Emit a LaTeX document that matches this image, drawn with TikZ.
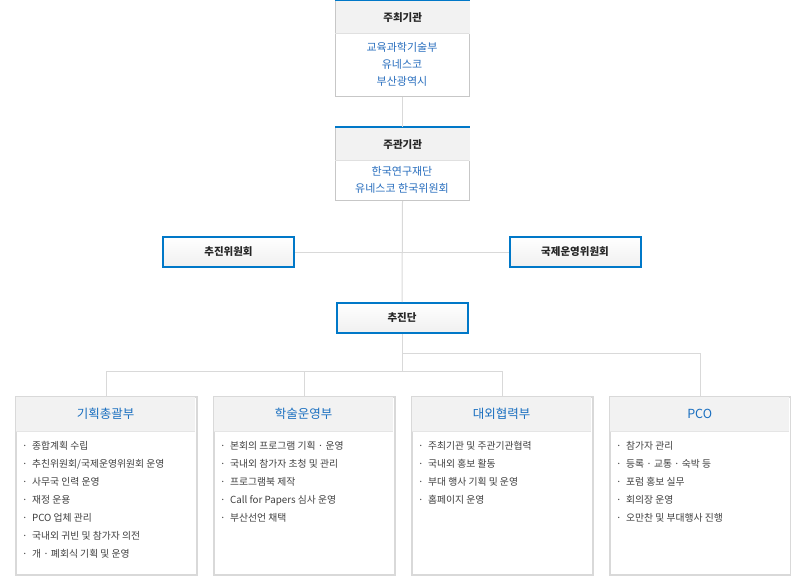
\documentclass[tikz,border=0pt]{standalone}
\usepackage{fontspec}
\setmainfont{Noto Sans CJK KR}
\begin{document}
\begin{tikzpicture}[x=1pt,y=-1pt,
  conn/.style={draw=black!15,line width=1pt},
  topbox/.style={draw=black!22,line width=1pt,fill=white,anchor=north west,minimum width=134pt,inner sep=0pt},
  tophead/.style={fill=black!5,anchor=north west,minimum width=134pt,minimum height=33pt,inner sep=0pt,font=\fontsize{10.5}{12}\selectfont\bfseries,text=black!85},
  bluebox/.style={draw={rgb,255:red,0;green,120;blue,200},line width=2pt,top color=white,bottom color=black!6,minimum width=131pt,minimum height=30pt,inner sep=0pt,font=\fontsize{10.5}{12}\selectfont\bfseries,text=black!85},
  dept/.style={draw=black!15,line width=2pt,fill=white,anchor=north west,minimum width=181pt,minimum height=178pt,inner sep=0pt},
  depthead/.style={fill=black!5,anchor=north west,minimum width=179pt,minimum height=34pt,inner sep=0pt,font=\fontsize{12.5}{14}\selectfont,text={rgb,255:red,26;green,111;blue,192}},
  items/.style={anchor=north west,align=left,font=\fontsize{9.8}{18}\selectfont,text=black!75,inner sep=0pt},
  blue/.style={text={rgb,255:red,40;green,110;blue,190}}]
\useasboundingbox (0,0) rectangle (791,575);
% top boxes
\node[topbox,minimum height=96pt] (host) at (335,0) {};
\node[tophead] (hosth) at (335.5,0.5) {주최기관};
\draw[line width=2pt,draw={rgb,255:red,0;green,120;blue,200}] (host.north west) -- (host.north east);
\draw[draw=black!12] (335,33) -- (469,33);
\node[blue,align=center,font=\fontsize{11}{17}\selectfont] (hostt) at (402,64) {교육과학기술부\\유네스코\\부산광역시};
\node[topbox,minimum height=73pt] (org) at (335,127) {};
\node[tophead] (orgh) at (335.5,127.5) {주관기관};
\draw[line width=2pt,draw={rgb,255:red,0;green,120;blue,200}] (org.north west) -- (org.north east);
\draw[draw=black!12] (335,160) -- (469,160);
\node[blue,align=center,font=\fontsize{11}{17}\selectfont] (orgt) at (402,180) {한국연구재단\\유네스코 한국위원회};
% blue boxes
\node[bluebox] (c1) at (228.5,252) {추진위원회};
\node[bluebox] (c2) at (575,252) {국제운영위원회};
\node[bluebox] (team) at (402,318) {추진단};
% connectors
\coordinate (j2) at (402,371);
\coordinate (j3) at (402,353);
\draw[conn] (host.south) -- (org.north);
\draw[conn] (org.south) -- (team.north);
\draw[conn] (c1.east) -- (c2.west);
\draw[conn] (team.south) -- (j2);
% departments
\node[dept] (d1) at (15,396) {};
\node[dept] (d2) at (213,396) {};
\node[dept] (d3) at (411,396) {};
\node[dept] (d4) at (609,396) {};
\foreach \d/\t in {d1/기획총괄부,d2/학술운영부,d3/대외협력부,d4/PCO}{
  \node[depthead] (\d h) at ([shift={(1,1)}]\d.north west) {\t};
  \draw[draw=black!10] (\d h.south west) -- (\d h.south east);
}
\draw[conn] (j3) -- (d4.north |- j3) -- (d4.north);
\draw[conn] (d1.north |- j2) -- (d3.north |- j2);
\draw[conn] (d1.north |- j2) -- (d1.north);
\draw[conn] (d2.north |- j2) -- (d2.north);
\draw[conn] (d3.north |- j2) -- (d3.north);
\node[items] (i1) at (22,441) {·\ \ 종합계획 수립\\·\ \ 추친위원회/국제운영위원회 운영\\·\ \ 사무국 인력 운영\\·\ \ 재정 운용\\·\ \ PCO 업체 관리\\·\ \ 국내외 귀빈 및 참가자 의전\\·\ \ 개 · 폐회식 기획 및 운영};
\node[items] (i2) at (220,441) {·\ \ 본회의 프로그램 기획 · 운영\\·\ \ 국내외 참가자 초청 및 관리\\·\ \ 프로그램북 제작\\·\ \ Call for Papers 심사 운영\\·\ \ 부산선언 채택};
\node[items] (i3) at (418,441) {·\ \ 주최기관 및 주관기관협력\\·\ \ 국내외 홍보 활동\\·\ \ 부대 행사 기획 및 운영\\·\ \ 홈페이지 운영};
\node[items] (i4) at (616,441) {·\ \ 참가자 관리\\·\ \ 등록 · 교통 · 숙박 등\\·\ \ 포럼 홍보 실무\\·\ \ 회의장 운영\\·\ \ 오만찬 및 부대행사 진행};
\end{tikzpicture}
\end{document}
